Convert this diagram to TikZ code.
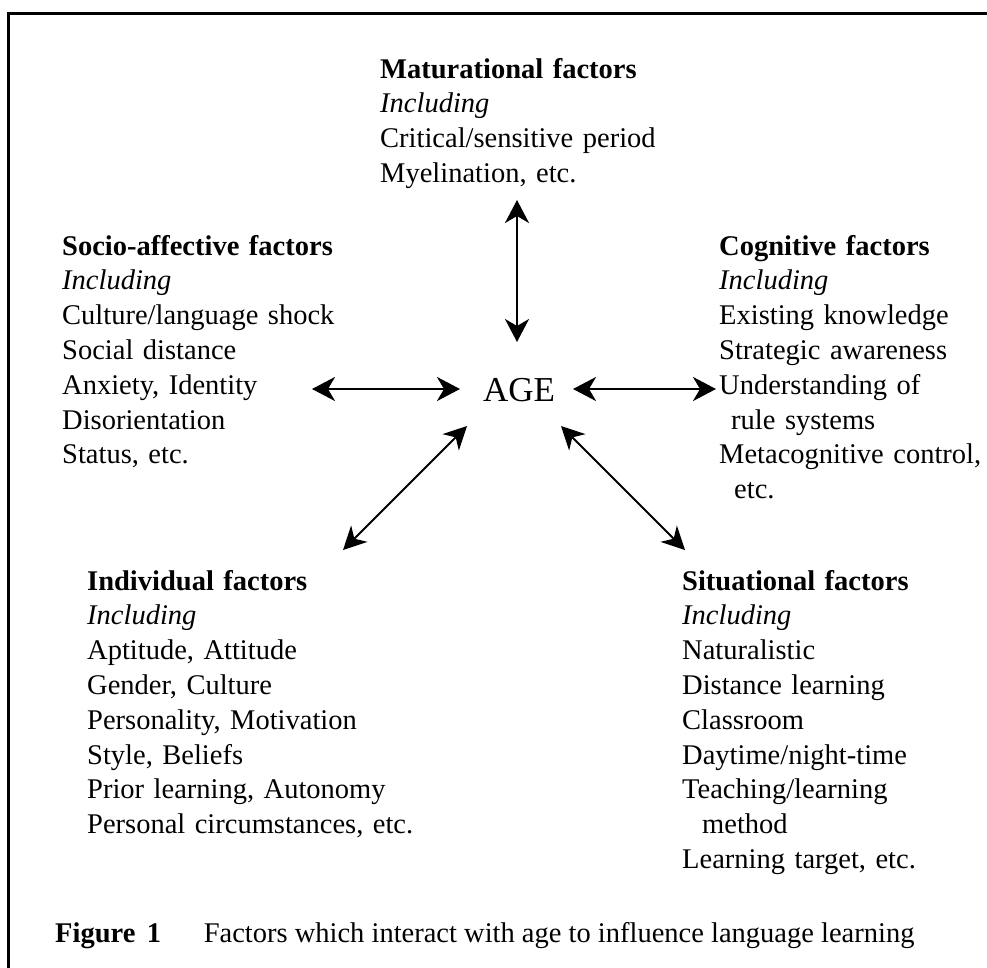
\documentclass[tikz,border=0pt]{standalone}
\usepackage{fontspec}
\setmainfont{Liberation Serif}
\usetikzlibrary{arrows.meta}
\begin{document}
\begin{tikzpicture}[x=1pt,y=-1pt,
  block/.style={anchor=base west,inner sep=0pt,align=left,text width=#1,
    font=\fontsize{28.5}{34.8}\selectfont},
  tip/.style={Stealth[length=23pt,width=24pt,inset=7pt]},
  link/.style={line width=2.6pt,{Stealth[length=23pt,width=24pt,inset=7pt]}-{Stealth[length=23pt,width=24pt,inset=7pt]}},
  dlink/.style={line width=2pt,{Stealth[length=23pt,width=23pt,inset=7pt]}-{Stealth[length=23pt,width=23pt,inset=7pt]}},
  frame/.style={line width=2.6pt}]
\useasboundingbox (0,0) rectangle (987,967);
% frame
\coordinate (ftr) at (990,13.5);
\coordinate (ftl) at (8.7,13.5);
\coordinate (fbl) at (8.7,970);
\draw[frame] (ftr) -- (ftl) -- (fbl);

\node[block=300pt] (mat) at (380,78) {\textbf{Maturational factors}\\\textit{Including}\\Critical/sensitive period\\Myelination, etc.};
\node[block=300pt] (soc) at (62,255) {\textbf{Socio-affective factors}\\\textit{Including}\\Culture/language shock\\Social distance\\Anxiety, Identity\\Disorientation\\Status, etc.};
\node[block=268pt] (cog) at (719,255) {\textbf{Cognitive factors}\\\textit{Including}\\Existing knowledge\\Strategic awareness\\Understanding of\\\hspace*{12pt}rule systems\\Metacognitive control,\\\hspace*{15pt}etc.};
\node[block=380pt] (ind) at (87,590) {\textbf{Individual factors}\\\textit{Including}\\Aptitude, Attitude\\Gender, Culture\\Personality, Motivation\\Style, Beliefs\\Prior learning, Autonomy\\Personal circumstances, etc.};
\node[block=300pt] (sit) at (682,590) {\textbf{Situational factors}\\\textit{Including}\\Naturalistic\\Distance learning\\Classroom\\Daytime/night-time\\Teaching/learning\\\hspace*{20pt}method\\Learning target, etc.};
\node[anchor=base west,inner sep=0pt,font=\fontsize{28.5}{34}\selectfont] (cap) at (55,942) {\textbf{Figure\hspace{0.4em}1}\hspace{1.5em}Factors which interact with age to influence language learning};

\node[anchor=base west,inner sep=0pt,font=\fontsize{35}{40}\selectfont] (age) at (483,401) {AGE};

\coordinate (mtop) at (517,200);
\coordinate (mbot) at (517,342);
\coordinate (sl) at (312,389);
\coordinate (sr) at (460,389);
\coordinate (cl) at (573,389);
\coordinate (cr) at (716,389);
\coordinate (il) at (343,550);
\coordinate (ia) at (467,426);
\coordinate (sa) at (561,426);
\coordinate (sr2) at (685,550);

\draw[link] (mtop) -- (mbot);
\draw[link] (sl) -- (sr);
\draw[link] (cl) -- (cr);
\draw[dlink] (ia) -- (il);
\draw[dlink] (sa) -- (sr2);
\end{tikzpicture}
\end{document}
